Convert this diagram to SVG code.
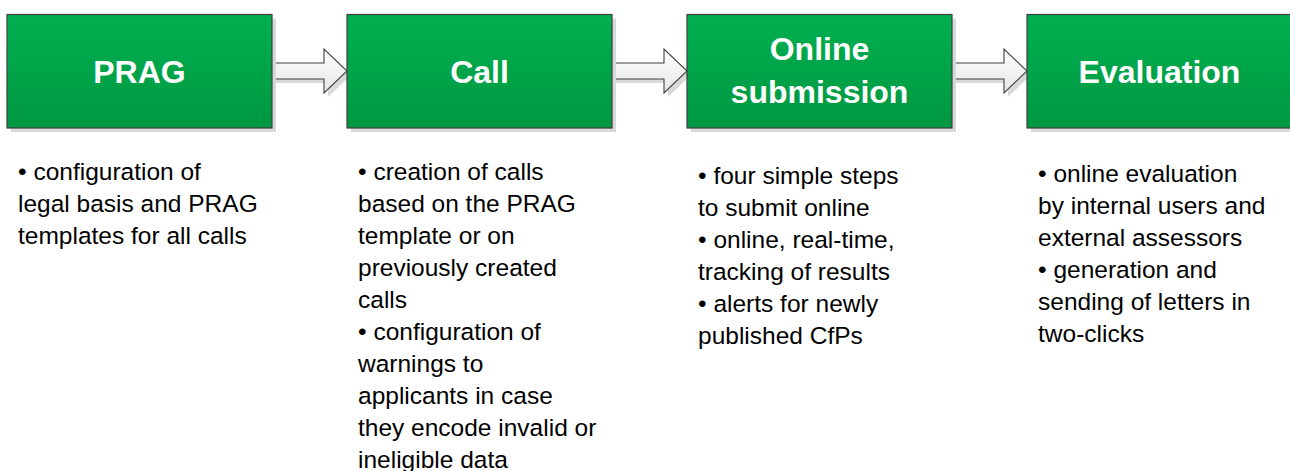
<svg xmlns="http://www.w3.org/2000/svg" width="1290" height="471" viewBox="0 0 1290 471">
<defs>
<linearGradient id="gbox" x1="0" y1="0" x2="0" y2="1">
<stop offset="0" stop-color="#00B050"/>
<stop offset="1" stop-color="#009742"/>
</linearGradient>
<linearGradient id="garr" x1="0" y1="0" x2="0" y2="1">
<stop offset="0" stop-color="#FFFFFF"/>
<stop offset="1" stop-color="#E6E6E6"/>
</linearGradient>
<style>
.box{fill:url(#gbox);stroke:#3F3F3F;stroke-width:1.2}
.shadow{fill:#D9D9D9}
.arr{fill:url(#garr);stroke:#404040;stroke-width:1.1;stroke-linejoin:miter}
.ashadow{fill:#D9D9D9}
.title{font-family:"Liberation Sans",Arial,sans-serif;font-weight:bold;font-size:32px;fill:#FFFFFF;text-anchor:middle}
.body{font-family:"Liberation Sans",Arial,sans-serif;font-size:24.5px;fill:#000000}
</style>
</defs>
<rect width="1290" height="471" fill="#FFFFFF"/>
<g id="connectors">
<path class="ashadow" d="M276,67 H328 V53 L351,75 L328,97 V83 H276 Z"/>
<path class="arr" d="M272,63 H324 V49 L347,71 L324,93 V79 H272 Z"/>
<path class="ashadow" d="M616,67 H668 V53 L691,75 L668,97 V83 H616 Z"/>
<path class="arr" d="M612,63 H664 V49 L687,71 L664,93 V79 H612 Z"/>
<path class="ashadow" d="M956,67 H1008 V53 L1031,75 L1008,97 V83 H956 Z"/>
<path class="arr" d="M952,63 H1004 V49 L1027,71 L1004,93 V79 H952 Z"/>
</g>
<g id="node-prag">
<rect class="shadow" x="11" y="18.5" width="265" height="113.5"/>
<rect class="box" x="7" y="14.5" width="265" height="113.5"/>
<text class="title" x="139.5" y="83">PRAG</text>
<text class="body" x="18" y="180">
<tspan x="18" y="180">• configuration of</tspan>
<tspan x="18" y="212">legal basis and PRAG</tspan>
<tspan x="18" y="244">templates for all calls</tspan>
</text>
</g>
<g id="node-call">
<rect class="shadow" x="351" y="18.5" width="265" height="113.5"/>
<rect class="box" x="347" y="14.5" width="265" height="113.5"/>
<text class="title" x="479.5" y="83">Call</text>
<text class="body" x="358" y="180">
<tspan x="358" y="180">• creation of calls</tspan>
<tspan x="358" y="212">based on the PRAG</tspan>
<tspan x="358" y="244">template or on</tspan>
<tspan x="358" y="276">previously created</tspan>
<tspan x="358" y="308">calls</tspan>
<tspan x="358" y="340">• configuration of</tspan>
<tspan x="358" y="372">warnings to</tspan>
<tspan x="358" y="404">applicants in case</tspan>
<tspan x="358" y="436">they encode invalid or</tspan>
<tspan x="358" y="468">ineligible data</tspan>
</text>
</g>
<g id="node-online">
<rect class="shadow" x="691" y="18.5" width="265" height="113.5"/>
<rect class="box" x="687" y="14.5" width="265" height="113.5"/>
<text class="title" x="819.5" y="60">Online</text>
<text class="title" x="819.5" y="103">submission</text>
<text class="body" x="698" y="184">
<tspan x="698" y="184">• four simple steps</tspan>
<tspan x="698" y="216">to submit online</tspan>
<tspan x="698" y="248">• online, real-time,</tspan>
<tspan x="698" y="280">tracking of results</tspan>
<tspan x="698" y="312">• alerts for newly</tspan>
<tspan x="698" y="344">published CfPs</tspan>
</text>
</g>
<g id="node-evaluation">
<rect class="shadow" x="1031" y="18.5" width="265" height="113.5"/>
<rect class="box" x="1027" y="14.5" width="265" height="113.5"/>
<text class="title" x="1159.5" y="83">Evaluation</text>
<text class="body" x="1038" y="182">
<tspan x="1038" y="182">• online evaluation</tspan>
<tspan x="1038" y="214">by internal users and</tspan>
<tspan x="1038" y="246">external assessors</tspan>
<tspan x="1038" y="278">• generation and</tspan>
<tspan x="1038" y="310">sending of letters in</tspan>
<tspan x="1038" y="342">two-clicks</tspan>
</text>
</g>
</svg>
